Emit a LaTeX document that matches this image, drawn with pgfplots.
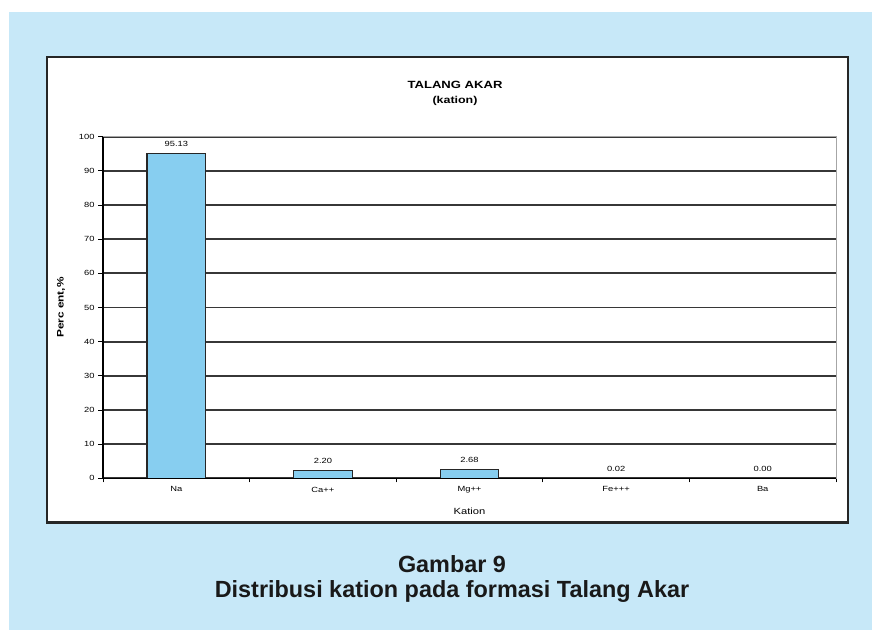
\documentclass[border=0pt]{standalone}
\usepackage{pgfplots}
\pgfplotsset{compat=1.18}
\usepackage{fontspec}
\setmainfont{Liberation Sans}
% the chart's own lettering is slightly widened
\newfontfamily\chartfont[FakeStretch=1.25]{Liberation Sans}
\definecolor{panelblue}{RGB}{199,232,248}
\definecolor{barblue}{RGB}{135,206,240}
\definecolor{gridgray}{RGB}{55,55,55}

\begin{document}
\begin{tikzpicture}[x=1bp,y=1bp]
% page, light-blue panel and the white chart frame
\fill[white] (0,0) rectangle (872,630);
\fill[panelblue] (9,0) rectangle (872,618);
\draw[fill=white, draw=black!85, line width=2.2bp] (47,107.5) rectangle (848,573);

\begin{axis}[
  at={(103bp,151.7bp)}, anchor=south west,
  scale only axis, width=733bp, height=341.6bp,
  xmin=-0.5, xmax=4.5, ymin=0, ymax=100,
  xtick={0,...,4},
  xticklabels={Na,Ca++,Mg++,Fe+++,Ba},
  xtick pos=lower, ytick pos=left,
  major x tick style={draw=none},
  minor xtick={-0.5,0.5,...,4.5},
  minor x tick style={black, line width=0.8bp},
  minor tick length=4bp,
  ytick={0,10,...,100},
  major tick length=5bp,
  tick align=outside,
  ytick style={black, line width=0.8bp},
  ymajorgrids,
  major grid style={gridgray, line width=1.8bp},
  axis line style={draw=gray!70, line width=0.8bp},
  tick label style={font=\chartfont\fontsize{7.5}{9}\selectfont},
  /pgf/number format/assume math mode=true,
  xlabel={Kation},
  xlabel style={font=\chartfont\fontsize{9}{10}\selectfont, yshift=-8bp},
  ylabel={Perc ent,\%},
  ylabel style={font=\chartfont\bfseries\fontsize{9.5}{11}\selectfont, yshift=7bp},
  ybar, bar width=0.4,
  nodes near coords={\pgfmathprintnumber[fixed,fixed zerofill,precision=2]{\pgfplotspointmeta}},
  nodes near coords style={font=\chartfont\fontsize{7.5}{9}\selectfont, black, yshift=3bp},
  after end axis/.code={
    \draw[black, line width=1.5bp] (rel axis cs:0,0) -- (rel axis cs:0,1);
    \draw[black, line width=1.5bp] (rel axis cs:0,0) -- (rel axis cs:1,0);
  },
]
\addplot[fill=barblue, draw=black!85, line width=1.1bp]
  coordinates {(0,95.13) (1,2.20) (2,2.68) (3,0.02) (4,0.00)};
\end{axis}

% chart title
\node[font=\chartfont\bfseries\fontsize{10.5}{12}\selectfont] at (455,545) {TALANG AKAR};
\node[font=\chartfont\bfseries\fontsize{10}{12}\selectfont] at (455,529) {(kation)};

% figure caption
\node[font=\bfseries\fontsize{23.5}{25}\selectfont, text=black!90, anchor=base]
  at (452,57) {Gambar 9};
\node[font=\bfseries\fontsize{23.5}{25}\selectfont, text=black!90, anchor=base]
  at (452,32) {Distribusi kation pada formasi Talang Akar};
\end{tikzpicture}
\end{document}
